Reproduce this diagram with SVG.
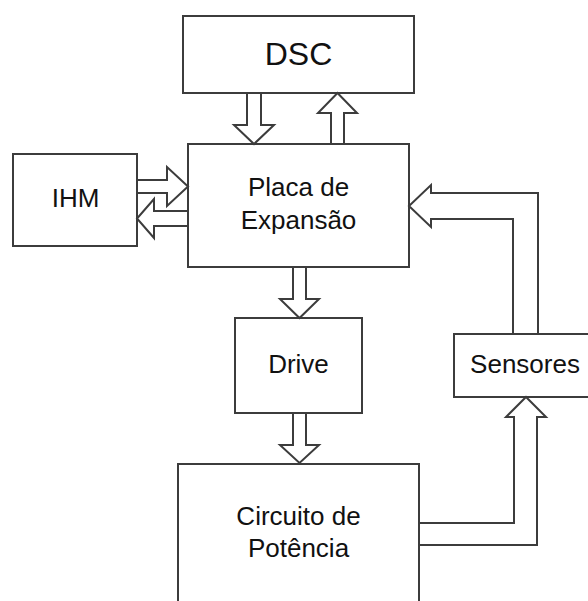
<svg xmlns="http://www.w3.org/2000/svg" width="588" height="601" viewBox="0 0 588 601">
<style>
.box{fill:#fff;stroke:#3c3c3c;stroke-width:2}
.arr{fill:#fff;stroke:#3c3c3c;stroke-width:2;stroke-linejoin:miter}
text{font-family:"Liberation Sans",Arial,sans-serif;font-size:26px;fill:#111;text-anchor:middle}
</style>
<rect width="588" height="601" fill="#fff"/>
<g id="dsc"><rect class="box" x="183" y="16" width="231" height="77"/><text x="298.5" y="65" style="font-size:32px">DSC</text></g>
<g id="placa"><rect class="box" x="188" y="144" width="221" height="123"/><text x="298.5" y="196">Placa de</text><text x="298.5" y="229">Expansão</text></g>
<g id="ihm"><rect class="box" x="13" y="154" width="124" height="92"/><text x="75.5" y="207">IHM</text></g>
<g id="drive"><rect class="box" x="235" y="318" width="127" height="95"/><text x="298.5" y="373">Drive</text></g>
<g id="sensores"><path class="box" d="M590,334 H454 V397 H590"/><text x="525" y="373">Sensores</text></g>
<g id="circuito"><path class="box" d="M178,603 V464 H419 V603"/><text x="298.5" y="525">Circuito de</text><text x="298.5" y="557">Potência</text></g>
<g id="connectors">
<polygon class="arr" points="247,93 261,93 261,125 274,125 254,144 234,125 247,125"/>
<polygon class="arr" points="331,144 344,144 344,113 357,113 337.5,93 318,113 331,113"/>
<polygon class="arr" points="137,180 167,180 167,167 188,186.5 167,206 167,193 137,193"/>
<polygon class="arr" points="188,211 154,211 154,199 137,218.5 154,238 154,226 188,226"/>
<polygon class="arr" points="293,267 306,267 306,299 319,299 299.5,318 280,299 293,299"/>
<polygon class="arr" points="293,413 306,413 306,445 319,445 299.5,463 280,445 293,445"/>
<polygon class="arr" points="538,334 538,193 431,193 431,185 409,206 431,227 431,219 513,219 513,334"/>
<polygon class="arr" points="419,523 514,523 514,417 506,417 526,397 546,417 537,417 537,545 419,545"/>
</g>
</svg>
